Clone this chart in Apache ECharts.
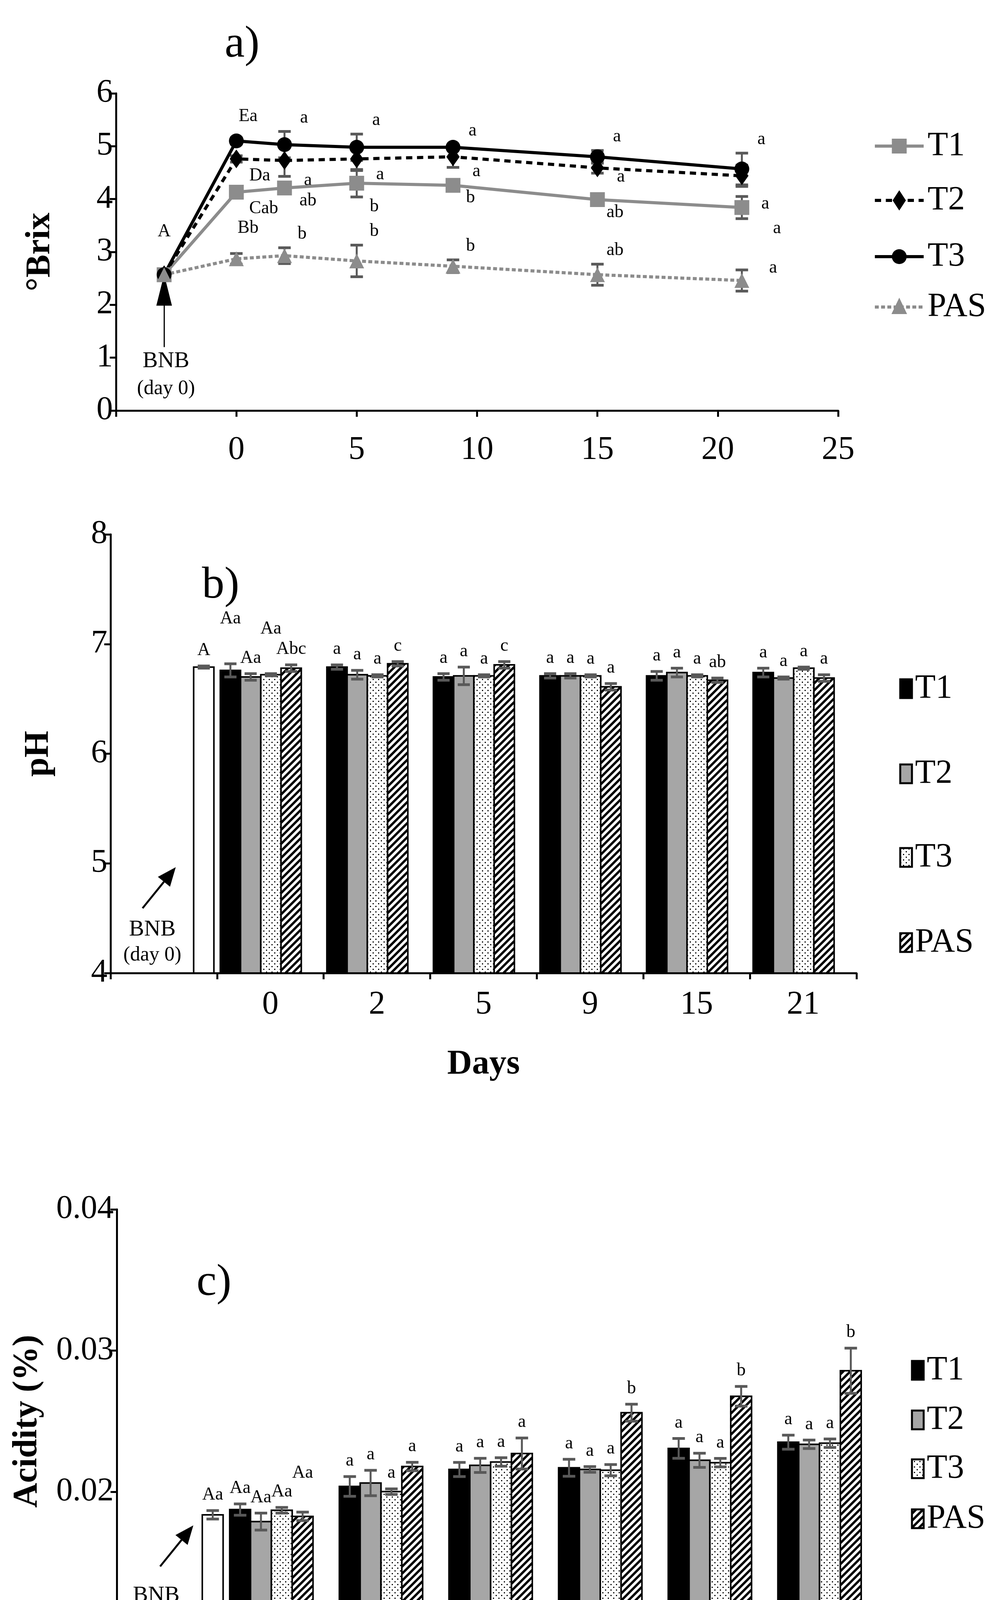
<!DOCTYPE html>
<html>
<head>
<meta charset="UTF-8">
<title>Brix, pH, acidity</title>
<script src="https://cdn.jsdelivr.net/npm/echarts@6/dist/echarts.min.js"></script>
<style>
  html, body { margin: 0; padding: 0; background: #fff; }
  #chart { width: 2563px; height: 4520px; }
</style>
</head>
<body>
<div id="chart"></div>
<script>
// ---- panel a: Brix ----
var bnbX = -3;
var bnbBrix = 2.57;
var daysA = [0, 2, 5, 9, 15, 21];
var brixT1 = [4.13, 4.21, 4.30, 4.26, 3.99, 3.84];
var brixT2 = [4.76, 4.73, 4.76, 4.80, 4.59, 4.44];
var brixT3 = [5.10, 5.03, 4.98, 4.98, 4.80, 4.57];
var brixPAS = [2.87, 2.93, 2.83, 2.73, 2.57, 2.46];
var errT1 = [0.05, 0.06, 0.26, 0.05, 0.06, 0.21];
var errT2 = [0.06, 0.30, 0.22, 0.20, 0.10, 0.20];
var errT3 = [0.06, 0.25, 0.25, 0.05, 0.12, 0.30];
var errPAS = [0.10, 0.15, 0.30, 0.12, 0.20, 0.20];
var letT1 = ['Cab', 'ab', 'b', 'b', 'ab', 'a'];
var letT2 = ['Da', 'a', 'a', 'a', 'a', 'a'];
var letT3 = ['Ea', 'a', 'a', 'a', 'a', 'a'];
var letPAS = ['Bb', 'b', 'b', 'b', 'ab', 'a'];

// ---- panels b, c: bars ----
var dayCats = ['', '0', '2', '5', '9', '15', '21'];
var phBNB = 6.79, phBNBerr = 0.01;
var phT1 = [6.76, 6.79, 6.70, 6.71, 6.71, 6.74];
var phT2 = [6.70, 6.72, 6.71, 6.71, 6.74, 6.69];
var phT3 = [6.72, 6.71, 6.71, 6.71, 6.71, 6.78];
var phPAS = [6.78, 6.82, 6.81, 6.61, 6.67, 6.69];
var phErrT1 = [0.06, 0.02, 0.03, 0.02, 0.04, 0.04];
var phErrT2 = [0.03, 0.04, 0.08, 0.02, 0.04, 0.01];
var phErrT3 = [0.01, 0.01, 0.01, 0.01, 0.01, 0.01];
var phErrPAS = [0.03, 0.02, 0.03, 0.03, 0.02, 0.03];
var phLetT1 = ['Aa', 'a', 'a', 'a', 'a', 'a'];
var phLetT2 = ['Aa', 'a', 'a', 'a', 'a', 'a'];
var phLetT3 = ['Aa', 'a', 'a', 'a', 'a', 'a'];
var phLetPAS = ['Abc', 'c', 'c', 'a', 'ab', 'a'];

var acBNB = 0.01838, acBNBerr = 0.0003;
var acT1 = [0.01875, 0.02039, 0.02159, 0.02171, 0.02308, 0.02352];
var acT2 = [0.01790, 0.02063, 0.02188, 0.02159, 0.02224, 0.02337];
var acT3 = [0.01870, 0.02002, 0.02212, 0.02154, 0.02207, 0.02345];
var acPAS = [0.01827, 0.02180, 0.02272, 0.02561, 0.02677, 0.02858];
var acErrT1 = [0.0004, 0.0007, 0.0005, 0.0006, 0.0007, 0.0005];
var acErrT2 = [0.0006, 0.0009, 0.0005, 0.0002, 0.0005, 0.0003];
var acErrT3 = [0.0002, 0.0002, 0.0003, 0.0004, 0.0003, 0.0003];
var acErrPAS = [0.0003, 0.0003, 0.0011, 0.0006, 0.0007, 0.0016];
var acLetT1 = ['Aa', 'a', 'a', 'a', 'a', 'a'];
var acLetT2 = ['Aa', 'a', 'a', 'a', 'a', 'a'];
var acLetT3 = ['Aa', 'a', 'a', 'a', 'a', 'a'];
var acLetPAS = ['Aa', 'a', 'a', 'b', 'b', 'b'];

var FONT = 'Liberation Serif';
var GREY = '#8c8c8c';
var ERR = '#595959';

function makePattern(kind) {
  var c = document.createElement('canvas');
  var ctx = c.getContext('2d');
  if (kind === 'dots') {
    c.width = 14; c.height = 14;
    ctx.fillStyle = '#fff'; ctx.fillRect(0, 0, 14, 14);
    ctx.fillStyle = '#000';
    ctx.fillRect(2, 2, 3, 3); ctx.fillRect(9, 9, 3, 3);
  } else {
    c.width = 18; c.height = 18;
    ctx.fillStyle = '#fff'; ctx.fillRect(0, 0, 18, 18);
    ctx.strokeStyle = '#000'; ctx.lineWidth = 6;
    ctx.beginPath();
    ctx.moveTo(-3, 21); ctx.lineTo(21, -3);
    ctx.moveTo(-3, 3); ctx.lineTo(3, -3);
    ctx.moveTo(15, 21); ctx.lineTo(21, 15);
    ctx.stroke();
  }
  return { image: c, repeat: 'repeat' };
}
var fills = ['#000', '#a6a6a6', makePattern('dots'), makePattern('stripes')];

var chart = echarts.init(document.getElementById('chart'));

function axisCommon() {
  return {
    axisLine: { show: true, onZero: false, lineStyle: { color: '#000', width: 5 } },
    axisTick: { show: true, inside: false, length: 16, lineStyle: { color: '#000', width: 5 } },
    splitLine: { show: false },
    axisLabel: { color: '#000', fontFamily: FONT, fontSize: 84 }
  };
}

// error bars + letters for the Brix lines
function brixErrSeries(vals, errs, lets, place) {
  var data = daysA.map(function (d, i) { return [d, vals[i], errs[i], lets[i]]; });
  return {
    type: 'custom', xAxisIndex: 0, yAxisIndex: 0, z: 3,
    data: data,
    renderItem: function (params, api) {
      var x = api.value(0), y = api.value(1), e = api.value(2);
      var idx = params.dataIndex;
      var top = api.coord([x, y + e]), bot = api.coord([x, y - e]);
      var cap = 16;
      var p = place(idx, top, bot);
      return {
        type: 'group',
        children: [
          { type: 'line', shape: { x1: top[0], y1: top[1], x2: bot[0], y2: bot[1] }, style: { stroke: ERR, lineWidth: 5 } },
          { type: 'line', shape: { x1: top[0] - cap, y1: top[1], x2: top[0] + cap, y2: top[1] }, style: { stroke: ERR, lineWidth: 7 } },
          { type: 'line', shape: { x1: bot[0] - cap, y1: bot[1], x2: bot[0] + cap, y2: bot[1] }, style: { stroke: ERR, lineWidth: 7 } },
          { type: 'text', x: p[0], y: p[1], style: { text: data[idx][3], fontFamily: FONT, fontSize: 46, fill: '#000', align: 'center', verticalAlign: 'middle' } }
        ]
      };
    }
  };
}

function brixLine(name, vals, color, symbol, dash) {
  var data = [[bnbX, bnbBrix]].concat(daysA.map(function (d, i) { return [d, vals[i]]; }));
  return {
    name: name, type: 'line', xAxisIndex: 0, yAxisIndex: 0, z: 5,
    data: data, symbol: symbol, symbolSize: symbol === 'diamond' ? [34, 48] : 38,
    lineStyle: { color: color, width: 8, type: dash },
    itemStyle: { color: color },
    emphasis: { disabled: true }
  };
}

// grouped bars for panels b and c
function barSeries(gi, s, vals, errs, lets, raise) {
  var isBnb = s === -1;
  var data = isBnb ? [[0, vals[0], errs[0], lets[0]]]
    : vals.map(function (v, i) { return [i + 1, v, errs[i], lets[i]]; });
  return {
    type: 'custom', xAxisIndex: gi, yAxisIndex: gi, z: 3,
    data: data,
    renderItem: function (params, api) {
      var ci = api.value(0), v = api.value(1), e = api.value(2);
      var idx = params.dataIndex;
      var slot = api.size([1, 0])[0];
      var c = api.coord([ci, v]);
      var yMin = params.coordSys.y + params.coordSys.height;
      var left = c[0] - slot / 2;
      var w = slot * 0.19;
      var x0 = isBnb ? left + slot * 0.78 : left + slot * (0.03 + 0.19 * s);
      var fill = isBnb ? '#fff' : fills[s];
      var cx = x0 + w / 2;
      var top = api.coord([ci, v + e])[1], bot = api.coord([ci, v - e])[1];
      var cap = w * 0.3;
      var lift = raise ? raise(s, idx) : 0;
      return {
        type: 'group',
        children: [
          { type: 'rect', shape: { x: x0, y: c[1], width: w, height: yMin - c[1] }, style: { fill: fill, stroke: '#000', lineWidth: 4 } },
          { type: 'line', shape: { x1: cx, y1: top, x2: cx, y2: bot }, style: { stroke: ERR, lineWidth: 5 } },
          { type: 'line', shape: { x1: cx - cap, y1: top, x2: cx + cap, y2: top }, style: { stroke: ERR, lineWidth: 7 } },
          { type: 'line', shape: { x1: cx - cap, y1: bot, x2: cx + cap, y2: bot }, style: { stroke: ERR, lineWidth: 7 } },
          { type: 'text', x: cx, y: top - 40 - lift, style: { text: data[idx][3], fontFamily: FONT, fontSize: 46, fill: '#000', align: 'center', verticalAlign: 'middle' } }
        ]
      };
    }
  };
}

var axA = axisCommon(), ayA = axisCommon();
var axB = axisCommon(), ayB = axisCommon();
var axC = axisCommon(), ayC = axisCommon();
var nameStyle = { fontFamily: FONT, fontSize: 88, fontWeight: 'bold', color: '#000' };

var option = {
  animation: false,
  backgroundColor: '#fff',
  grid: [
    { left: 297, width: 1849, top: 239, height: 812 },
    { left: 283, width: 1910, top: 1368, height: 1123 },
    { left: 299, width: 1965, top: 3096, height: 1086 }
  ],
  xAxis: [
    Object.assign(axA, { type: 'value', gridIndex: 0, min: -5, max: 25, interval: 5,
      axisLabel: Object.assign(axA.axisLabel, { margin: 60, formatter: function (v) { return v === -5 ? '' : v; } }) }),
    Object.assign(axB, { type: 'category', gridIndex: 1, data: dayCats, boundaryGap: true,
      axisTick: Object.assign(axB.axisTick, { alignWithLabel: false, interval: 0 }),
      axisLabel: Object.assign(axB.axisLabel, { margin: 40 }),
      name: 'Days', nameLocation: 'middle', nameGap: 190, nameTextStyle: nameStyle }),
    Object.assign(axC, { type: 'category', gridIndex: 2, data: dayCats, boundaryGap: true,
      axisTick: Object.assign(axC.axisTick, { alignWithLabel: false, interval: 0 }),
      axisLabel: Object.assign(axC.axisLabel, { margin: 50 }),
      name: 'Days', nameLocation: 'middle', nameGap: 250, nameTextStyle: nameStyle })
  ],
  yAxis: [
    Object.assign(ayA, { type: 'value', gridIndex: 0, min: 0, max: 6, interval: 1,
      name: '\u00B0Brix', nameLocation: 'middle', nameGap: 150, nameTextStyle: nameStyle }),
    Object.assign(ayB, { type: 'value', gridIndex: 1, min: 4, max: 8, interval: 1,
      name: 'pH', nameLocation: 'middle', nameGap: 140, nameTextStyle: nameStyle }),
    Object.assign(ayC, { type: 'value', gridIndex: 2, min: 0.01, max: 0.04, interval: 0.01,
      axisLabel: Object.assign(ayC.axisLabel, { formatter: function (v) { return v.toFixed(2); } }),
      name: 'Acidity (%)', nameLocation: 'middle', nameGap: 185, nameTextStyle: nameStyle })
  ],
  series: [
    brixErrSeries(brixT1, errT1, letT1, function (i, top, bot) {
      return i === 0 ? [bot[0] + 70, bot[1] + 35] : (i === 5 ? [bot[0] + 90, bot[1] + 25] : [bot[0] + (i === 1 ? 60 : 45), bot[1] + 25]); }),
    brixErrSeries(brixT2, errT2, letT2, function (i, top, bot) {
      return i === 0 ? [bot[0] + 60, bot[1] + 35] : [bot[0] + 60, bot[1] + (i === 5 ? 45 : 10)]; }),
    brixErrSeries(brixT3, errT3, letT3, function (i, top, bot) {
      return i === 0 ? [top[0] + 30, top[1] - 55] : [top[0] + 50, top[1] - 35]; }),
    brixErrSeries(brixPAS, errPAS, letPAS, function (i, top, bot) {
      return i === 0 ? [top[0] + 30, top[1] - 65] : (i === 5 ? [top[0] + 80, top[1] - 5] : [top[0] + 45, top[1] - 35]); }),
    brixLine('T1', brixT1, GREY, 'rect', 'solid'),
    brixLine('T2', brixT2, '#000', 'diamond', [16, 12]),
    brixLine('T3', brixT3, '#000', 'circle', 'solid'),
    brixLine('PAS', brixPAS, GREY, 'triangle', [10, 6]),
    {
      type: 'custom', xAxisIndex: 0, yAxisIndex: 0, z: 6, data: [[bnbX, bnbBrix]],
      renderItem: function (params, api) {
        var p = api.coord([api.value(0), api.value(1)]);
        return { type: 'text', x: p[0], y: p[1] - 110, style: { text: 'A', fontFamily: FONT, fontSize: 46, fill: '#000', align: 'center', verticalAlign: 'middle' } };
      }
    },
    {
      type: 'line', xAxisIndex: 0, yAxisIndex: 0, data: [], silent: true,
      markLine: {
        silent: true, symbol: ['none', 'triangle'], symbolSize: [40, 80],
        lineStyle: { color: '#000', width: 3, type: 'solid' }, label: { show: false },
        data: [[{ coord: [bnbX, 1.2] }, { coord: [bnbX, 2.28] }]]
      }
    },
    barSeries(1, -1, [phBNB], [phBNBerr], ['A']),
    barSeries(1, 0, phT1, phErrT1, phLetT1, function (s, i) { return i === 0 ? 75 : 0; }),
    barSeries(1, 1, phT2, phErrT2, phLetT2),
    barSeries(1, 2, phT3, phErrT3, phLetT3, function (s, i) { return i === 0 ? 75 : 0; }),
    barSeries(1, 3, phPAS, phErrPAS, phLetPAS),
    barSeries(2, -1, [acBNB], [acBNBerr], ['Aa']),
    barSeries(2, 0, acT1, acErrT1, acLetT1),
    barSeries(2, 1, acT2, acErrT2, acLetT2),
    barSeries(2, 2, acT3, acErrT3, acLetT3),
    barSeries(2, 3, acPAS, acErrPAS, acLetPAS, function (s, i) { return i === 0 ? 60 : 0; })
  ],
  graphic: []
};

function txt(x, y, s, size, bold) {
  return { type: 'text', x: x, y: y, style: { text: s, fontFamily: FONT, fontSize: size, fontWeight: bold ? 'bold' : 'normal', fill: '#000', align: 'center', verticalAlign: 'middle' } };
}
function arrow(x1, y1, x2, y2) {
  var a = Math.atan2(y2 - y1, x2 - x1), L = 48, W = 20;
  var bx = x2 - L * Math.cos(a), by = y2 - L * Math.sin(a);
  return [
    { type: 'line', shape: { x1: x1, y1: y1, x2: bx, y2: by }, style: { stroke: '#000', lineWidth: 5 } },
    { type: 'polygon', shape: { points: [[x2, y2], [bx + W * Math.sin(a), by - W * Math.cos(a)], [bx - W * Math.sin(a), by + W * Math.cos(a)]] }, style: { fill: '#000' } }
  ];
}
var g = [];
g.push(txt(620, 115, 'a)', 115));
g.push(txt(425, 925, 'BNB', 58), txt(425, 995, '(day 0)', 52));
g.push(txt(565, 1500, 'b)', 115));
g.push(txt(390, 2380, 'BNB', 58), txt(390, 2445, '(day 0)', 52));
g = g.concat(arrow(365, 2325, 450, 2220));
g.push(txt(548, 3285, 'c)', 115));
g.push(txt(400, 4085, 'BNB', 58), txt(400, 4150, '(day 0)', 52));
g = g.concat(arrow(410, 4010, 495, 3905));

// legend for the Brix lines
var lineLegend = [
  { n: 'T1', c: GREY, dash: 'solid', m: 'rect' },
  { n: 'T2', c: '#000', dash: [16, 12], m: 'diamond' },
  { n: 'T3', c: '#000', dash: 'solid', m: 'circle' },
  { n: 'PAS', c: GREY, dash: [10, 6], m: 'triangle' }
];
var legYs = [374, 513, 657, 786];
lineLegend.forEach(function (it, i) {
  var y = legYs[i], x1 = 2240, x2 = 2365, cx = (x1 + x2) / 2;
  g.push({ type: 'line', shape: { x1: x1, y1: y, x2: x2, y2: y }, style: { stroke: it.c, lineWidth: 8, lineDash: it.dash === 'solid' ? null : it.dash } });
  var mk;
  if (it.m === 'rect') mk = { type: 'rect', shape: { x: cx - 19, y: y - 19, width: 38, height: 38 }, style: { fill: it.c } };
  else if (it.m === 'circle') mk = { type: 'circle', shape: { cx: cx, cy: y, r: 19 }, style: { fill: it.c } };
  else if (it.m === 'diamond') mk = { type: 'polygon', shape: { points: [[cx, y - 26], [cx + 17, y], [cx, y + 26], [cx - 17, y]] }, style: { fill: it.c } };
  else mk = { type: 'polygon', shape: { points: [[cx, y - 24], [cx + 20, y + 18], [cx - 20, y + 18]] }, style: { fill: it.c } };
  g.push(mk);
  g.push({ type: 'text', x: x2 + 10, y: y, style: { text: it.n, fontFamily: FONT, fontSize: 86, fill: '#000', verticalAlign: 'middle' } });
});

// legends for bar panels
function barLegend(x, ys) {
  var out = [];
  ['T1', 'T2', 'T3', 'PAS'].forEach(function (n, i) {
    out.push({ type: 'rect', shape: { x: x, y: ys[i] - 24, width: 30, height: 48 }, style: { fill: fills[i], stroke: '#000', lineWidth: 5 } });
    out.push({ type: 'text', x: x + 38, y: ys[i], style: { text: n, fontFamily: FONT, fontSize: 86, fill: '#000', verticalAlign: 'middle' } });
  });
  return out;
}
g = g.concat(barLegend(2305, [1763, 1981, 2195, 2413]));
g = g.concat(barLegend(2335, [3508, 3635, 3760, 3888]));
option.graphic = g;

chart.setOption(option);
</script>
</blockquote>
</body>
</html>
